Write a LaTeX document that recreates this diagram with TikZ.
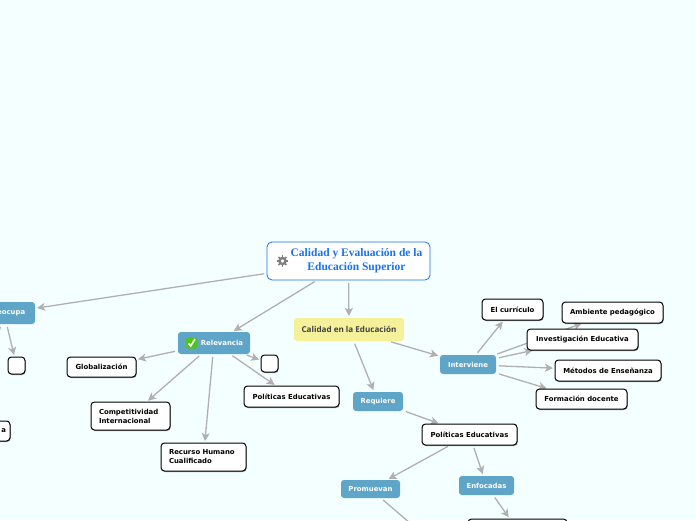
\documentclass[tikz,border=0pt]{standalone}
\usepackage{fontspec}
\setmainfont{DejaVu Sans}
\newfontfamily\rootfont{Liberation Serif}
\newfontfamily\yellowfont{Open Sans}
\usetikzlibrary{backgrounds,arrows.meta,shadows}
\definecolor{bgc}{HTML}{F4FFFF}
\definecolor{bluenode}{HTML}{5FA5C8}
\definecolor{edgec}{HTML}{B0B0B0}
\definecolor{rootc}{HTML}{1A73E8}
\definecolor{yellowc}{HTML}{F5F19B}
\definecolor{checkc}{HTML}{4FC41A}
\tikzset{
  x=1pt,y=-1pt,
  base/.style={rounded corners=3pt,inner sep=0pt,outer sep=0pt,font=\fontsize{6.9}{9}\selectfont\bfseries},
  whitebox/.style={base,draw=black,line width=1pt,fill=white,text=black,rounded corners=3.5pt,
    drop shadow={shadow xshift=0.6pt,shadow yshift=-1pt,opacity=0.4,fill=black}},
  bluebox/.style={base,fill=bluenode,text=white},
  yellowbox/.style={base,fill=yellowc,text=black!75,
    font=\yellowfont\fontsize{8.1}{9}\selectfont\bfseries},
  rootbox/.style={base,draw=rootc,line width=0.8pt,fill=white,text=rootc,rounded corners=5pt,
    font=\rootfont\fontsize{11.5}{13}\selectfont\bfseries},
  link/.style={draw=edgec,line width=1.3pt,shorten <=3pt,shorten >=2pt,
    -{Stealth[length=8pt,width=8pt,inset=2pt]}}
}
\newcommand{\nd}[7]{%
  \pgfmathsetmacro{\ndw}{#5-#3}\pgfmathsetmacro{\ndh}{#6-#4}%
  \pgfmathsetmacro{\ndx}{(#3+#5)/2}\pgfmathsetmacro{\ndy}{(#4+#6)/2}%
  \node[#1,minimum width=\ndw pt,minimum height=\ndh pt] (#2) at (\ndx,\ndy) {#7};}
\begin{document}
\begin{tikzpicture}
\useasboundingbox (0,0) rectangle (696,520);
% nodes
\nd{rootbox}{root}{267}{242}{430}{280}{\raisebox{-1.2pt}{\begin{tabular}{@{\hspace{16pt}}c@{}}Calidad y Evaluación de la\\[0.4pt]Educación Superior\end{tabular}}}
\nd{yellowbox}{cal}{294}{318}{404}{341}{Calidad en la Educación}
\nd{bluebox}{pre}{-27}{302}{35}{324}{\hspace{6pt}Preocupa}
\nd{bluebox}{rel}{178}{332}{250}{354}{\hspace{16pt}Relevancia}
\nd{whitebox}{glo}{67}{357}{136}{377}{Globalización}
\nd{whitebox}{emp}{261}{355}{278}{372}{}
\nd{whitebox}{pol}{244}{386}{339}{407}{Políticas Educativas}
\nd{whitebox,text width=63pt,align=left}{com}{91}{402}{170}{430}{Competitividad\\Internacional}
\nd{whitebox,text width=69pt,align=left}{rec}{161}{443}{246}{471}{Recurso Humano\\Cualificado}
\nd{whitebox}{eml}{8}{357}{25}{374}{}
\nd{whitebox,text width=66pt,align=right}{pe}{-64}{421}{10}{441}{a}
\nd{bluebox}{int}{440}{355}{496}{374}{Interviene}
\nd{bluebox}{req}{353}{392}{403}{411}{Requiere}
\nd{whitebox}{pob}{422}{424}{517}{445}{Políticas Educativas}
\nd{bluebox}{pro}{341}{480}{400}{498}{Promuevan}
\nd{bluebox}{enf}{459}{476}{514}{495}{Enfocadas}
\nd{whitebox}{bot}{468}{519}{567}{541}{}
\nd{whitebox}{cur}{482}{299}{543}{320}{El currículo}
\nd{whitebox}{amb}{562}{302}{663}{323}{Ambiente pedagógico}
\nd{whitebox}{inv}{527}{329}{638}{350}{Investigación Educativa}
\nd{whitebox}{met}{555}{360}{661}{381}{Métodos de Enseñanza}
\nd{whitebox}{for}{536}{389}{627}{409}{Formación docente}
\coordinate (off) at (440,549);
% gear icon
\begin{scope}[shift={(282.5,261)}]
  \foreach \a in {0,45,...,315}
    \draw[black!50,line width=1.7pt] (\a:3pt) -- (\a:5.6pt);
  \draw[black!50,line width=2.4pt,fill=white] (0,0) circle (3pt);
\end{scope}
% check icon
\begin{scope}[shift={(191.5,343)}]
  \fill[checkc,rounded corners=1.5pt] (-5.5,-5.5) rectangle (5.5,5.5);
  \draw[white,line width=1.6pt] (-3,0.5) -- (-0.8,3) -- (3.5,-4);
\end{scope}
% connectors
\begin{scope}[on background layer]
\clip (0,0) rectangle (696,520);
\fill[bgc] (0,0) rectangle (696,520);
\foreach \a/\b in {root/pre,root/rel,root/cal,pre/eml,pre/pe,rel/glo,rel/emp,rel/pol,rel/com,rel/rec,
  cal/int,cal/req,int/cur,int/amb,int/inv,int/met,int/for,req/pob,pob/pro,pob/enf,enf/bot,pro/off}
  \draw[link] (\a) -- (\b);
\end{scope}
\end{tikzpicture}
\end{document}
